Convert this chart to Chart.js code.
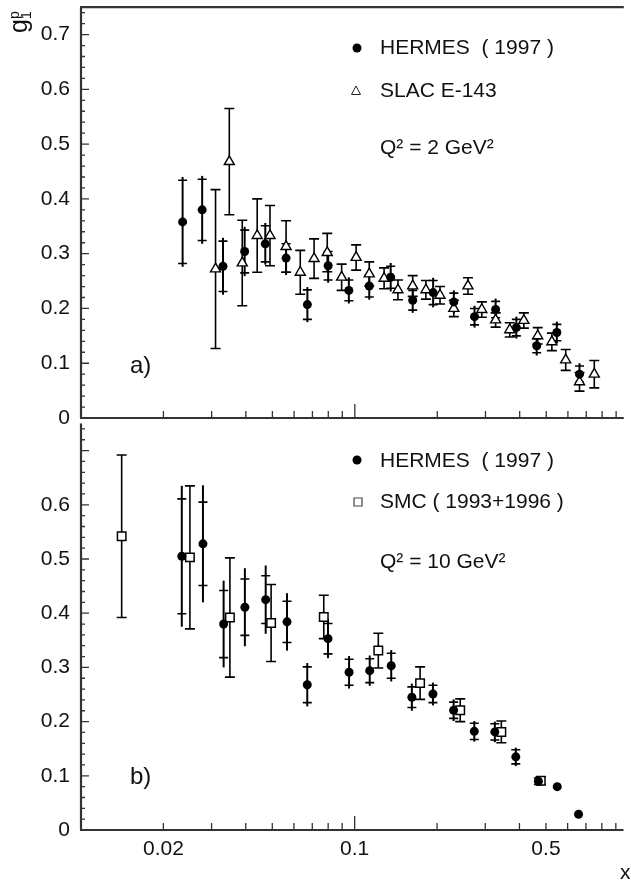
<!DOCTYPE html>
<html>
<head>
<meta charset="utf-8">
<script src="https://cdn.jsdelivr.net/npm/chart.js@4.4.0/dist/chart.umd.min.js"></script>
<style>
  html, body { margin: 0; padding: 0; background: #fff; overflow: hidden; }
  #wrap { position: relative; width: 631px; height: 886px; }
  #panelA { position: absolute; left: 0; top: 0; }
  #panelB { position: absolute; left: 0; top: 416px; }
</style>
</head>
<body>
<div id="wrap">
  <canvas id="panelA" width="631" height="440"></canvas>
  <canvas id="panelB" width="631" height="470"></canvas>
</div>
<script>
// axis ticks
const yTicks = [0, 0.1, 0.2, 0.3, 0.4, 0.5, 0.6, 0.7];
const yTickLabelsA = ['0', '0.1', '0.2', '0.3', '0.4', '0.5', '0.6', '0.7'];
const yTickLabelsB = ['0', '0.1', '0.2', '0.3', '0.4', '0.5', '0.6', ''];
const xTicks = [0.02, 0.1, 0.5];
const xTickLabels = ['0.02', '0.1', '0.5'];
const xMinorTicks = [0.02, 0.03, 0.04, 0.05, 0.06, 0.07, 0.08, 0.09, 0.2, 0.3, 0.4, 0.5, 0.6, 0.7, 0.8, 0.9];

// panel a) Q2 = 2 GeV2 : HERMES 1997
const hermesA_x = [0.0235, 0.0277, 0.0330, 0.0396, 0.0471, 0.0561, 0.0671, 0.0799, 0.0951, 0.1129,
                   0.1352, 0.1627, 0.1932, 0.2299, 0.2736, 0.3267, 0.3889, 0.4615, 0.5467, 0.6615];
const hermesA_y = [0.358, 0.380, 0.277, 0.304, 0.318, 0.292, 0.207, 0.278, 0.233, 0.241,
                   0.257, 0.215, 0.229, 0.212, 0.185, 0.198, 0.165, 0.132, 0.156, 0.080];
const hermesA_stat = [0.076, 0.056, 0.046, 0.039, 0.033, 0.026, 0.027, 0.026, 0.019, 0.020,
                      0.020, 0.018, 0.022, 0.016, 0.015, 0.015, 0.015, 0.013, 0.015, 0.015];
const hermesA_tot = [0.082, 0.062, 0.052, 0.045, 0.038, 0.031, 0.032, 0.031, 0.024, 0.025,
                     0.026, 0.023, 0.027, 0.021, 0.020, 0.020, 0.020, 0.018, 0.020, 0.020];

// panel a) SLAC E-143
const slacA_x = [0.0310, 0.0348, 0.0388, 0.0440, 0.0490, 0.0561, 0.0632, 0.0710, 0.0793, 0.0895,
                 0.1011, 0.1129, 0.1279, 0.1437, 0.1627, 0.1818, 0.2047, 0.2299, 0.2589, 0.2909,
                 0.3267, 0.3680, 0.4143, 0.4655, 0.5243, 0.5890, 0.6615, 0.7490];
const slacA_y = [0.272, 0.468, 0.283, 0.333, 0.333, 0.313, 0.266, 0.291, 0.302, 0.257,
                 0.293, 0.263, 0.255, 0.234, 0.241, 0.234, 0.224, 0.200, 0.241, 0.198,
                 0.179, 0.161, 0.178, 0.150, 0.139, 0.106, 0.066, 0.080];
const slacA_err = [0.145, 0.097, 0.078, 0.067, 0.055, 0.047, 0.040, 0.036, 0.035, 0.024,
                   0.023, 0.022, 0.019, 0.018, 0.019, 0.017, 0.016, 0.015, 0.015, 0.014,
                   0.013, 0.013, 0.014, 0.015, 0.016, 0.019, 0.017, 0.025];

// panel b) Q2 = 10 GeV2 : HERMES 1997
const hermesB_x = [0.02335, 0.0279, 0.0332, 0.0397, 0.0473, 0.0566, 0.0671, 0.0799, 0.0954, 0.1135,
                   0.1360, 0.1618, 0.1932, 0.2299, 0.2736, 0.3252, 0.3879, 0.4691, 0.5497, 0.6577];
const hermesB_y = [0.505, 0.528, 0.380, 0.411, 0.425, 0.384, 0.268, 0.353, 0.291, 0.294,
                   0.303, 0.245, 0.251, 0.221, 0.182, 0.181, 0.135, 0.090, 0.080, 0.029];
const hermesB_stat = [0.106, 0.077, 0.062, 0.052, 0.044, 0.038, 0.033, 0.028, 0.024, 0.022,
                      0.023, 0.019, 0.016, 0.015, 0.015, 0.015, 0.013, 0.006, 0, 0];
const hermesB_tot = [0.130, 0.108, 0.080, 0.072, 0.063, 0.053, 0.040, 0.036, 0.030, 0.028,
                     0.029, 0.025, 0.021, 0.020, 0.019, 0.019, 0.017, 0.008, 0, 0];

// panel b) SMC 1993+1996
const smcB_x = [0.01408, 0.0250, 0.0350, 0.0495, 0.0771, 0.1220, 0.1734, 0.2430, 0.3435, 0.4786];
const smcB_y = [0.542, 0.503, 0.392, 0.382, 0.393, 0.331, 0.271, 0.221, 0.181, 0.091];
const smcB_err = [0.150, 0.132, 0.110, 0.071, 0.040, 0.032, 0.030, 0.021, 0.020, 0.007];

const FONT = "'Liberation Sans', Arial, Helvetica, sans-serif";
const INK = '#111';
const AXIS = '#333';

Chart.defaults.font.family = FONT;
Chart.defaults.color = INK;

function pts(xs, ys) {
  return xs.map((x, i) => ({ x: x, y: ys[i] }));
}

// error bars, frame, inward ticks and panel texts
const deco = {
  id: 'deco',
  beforeDatasetsDraw(chart) {
    const ctx = chart.ctx;
    const ys = chart.scales.y;
    chart.data.datasets.forEach((ds, i) => {
      const meta = chart.getDatasetMeta(i);
      ctx.save();
      ctx.strokeStyle = '#000';
      meta.data.forEach((pt, j) => {
        const v = ds.data[j].y;
        const tot = ds.errTot[j], stat = ds.errStat[j];
        if (!tot) return;
        const top = ys.getPixelForValue(v + tot);
        const bot = ys.getPixelForValue(v - tot);
        ctx.lineWidth = ds.barWidth;
        ctx.beginPath();
        ctx.moveTo(pt.x, top);
        ctx.lineTo(pt.x, bot);
        ctx.stroke();
        const s1 = ys.getPixelForValue(v + stat);
        const s2 = ys.getPixelForValue(v - stat);
        ctx.lineWidth = 1.6;
        ctx.beginPath();
        ctx.moveTo(pt.x - ds.capHalf, s1); ctx.lineTo(pt.x + ds.capHalf, s1);
        ctx.moveTo(pt.x - ds.capHalf, s2); ctx.lineTo(pt.x + ds.capHalf, s2);
        ctx.stroke();
      });
      ctx.restore();
    });
  },
  afterDraw(chart) {
    const o = chart.options.plugins.deco;
    const ctx = chart.ctx;
    const a = chart.chartArea;
    const xs = chart.scales.x, ys = chart.scales.y;
    ctx.save();
    // frame
    ctx.strokeStyle = AXIS;
    ctx.lineWidth = 2.2;
    ctx.beginPath();
    ctx.moveTo(a.left, a.top); ctx.lineTo(a.left, a.bottom);
    ctx.moveTo(a.left - 1, a.bottom); ctx.lineTo(a.right, a.bottom);
    if (o.topLine) { ctx.moveTo(a.left - 1, a.top); ctx.lineTo(a.right, a.top); }
    ctx.stroke();
    // y ticks, pointing inward
    ctx.lineWidth = 1.3;
    ctx.beginPath();
    for (let k = 0; k <= 37; k++) {
      const v = k * 0.02;
      const py = ys.getPixelForValue(v);
      const len = (k % 5 === 0) ? 8 : 4;
      ctx.moveTo(a.left, py); ctx.lineTo(a.left + len, py);
    }
    xMinorTicks.forEach(v => {
      const px = xs.getPixelForValue(v);
      ctx.moveTo(px, a.bottom); ctx.lineTo(px, a.bottom - 7);
    });
    const p1 = xs.getPixelForValue(0.1);
    ctx.moveTo(p1, a.bottom); ctx.lineTo(p1, a.bottom - 14);
    ctx.stroke();

    // legend
    ctx.fillStyle = INK;
    ctx.font = '21px ' + FONT;
    ctx.textBaseline = 'middle';
    ctx.textAlign = 'left';
    o.texts.forEach(t => ctx.fillText(t[0], t[1], t[2]));
    o.marks.forEach(m => {
      ctx.beginPath();
      if (m.kind === 'circle') {
        ctx.arc(m.x, m.y, 4.5, 0, Math.PI * 2);
        ctx.fillStyle = '#000';
        ctx.fill();
      } else if (m.kind === 'triangle') {
        ctx.moveTo(m.x, m.y - 5);
        ctx.lineTo(m.x + 4.5, m.y + 3.5);
        ctx.lineTo(m.x - 4.5, m.y + 3.5);
        ctx.closePath();
        ctx.lineWidth = 1;
        ctx.strokeStyle = '#222';
        ctx.stroke();
      } else {
        ctx.rect(m.x - 4, m.y - 4, 8, 8);
        ctx.lineWidth = 1.2;
        ctx.strokeStyle = '#444';
        ctx.stroke();
      }
    });
    ctx.fillStyle = INK;
    ctx.font = '24px ' + FONT;
    ctx.fillText(o.tag[0], o.tag[1], o.tag[2]);

    if (o.yTitle) {
      ctx.save();
      ctx.translate(27, 33);
      ctx.rotate(-Math.PI / 2);
      ctx.textBaseline = 'alphabetic';
      ctx.font = '25px ' + FONT;
      ctx.fillText('g', 0, 0);
      const w = ctx.measureText('g').width;
      ctx.font = '14px ' + FONT;
      ctx.fillText('1', w, 4);
      ctx.fillText('p', w, -8);
      ctx.restore();
    }
    if (o.xTitle) {
      ctx.font = '21px ' + FONT;
      ctx.fillText(o.xTitle[0], o.xTitle[1], o.xTitle[2]);
    }
    ctx.restore();
  }
};

function yScale(labels) {
  return {
    min: 0,
    max: 0.75,
    afterBuildTicks: s => { s.ticks = yTicks.map(v => ({ value: v })); },
    afterFit: s => { s.width = 81; s.paddingTop = 0; s.paddingBottom = 0; },
    grid: { display: false, drawTicks: false },
    border: { display: false },
    ticks: {
      padding: 11,
      font: { size: 21 },
      color: INK,
      callback: (v, i) => labels[i]
    }
  };
}

function marker(style, radius, fill, bw) {
  return {
    pointStyle: style,
    pointRadius: radius,
    pointBackgroundColor: fill,
    pointBorderColor: '#000',
    pointBorderWidth: bw,
    showLine: false
  };
}

new Chart(document.getElementById('panelA'), {
  type: 'scatter',
  data: {
    datasets: [
      Object.assign({
        label: 'HERMES ( 1997 )',
        data: pts(hermesA_x, hermesA_y),
        errStat: hermesA_stat, errTot: hermesA_tot, barWidth: 2, capHalf: 4.5
      }, marker('circle', 4.5, '#000', 0)),
      Object.assign({
        label: 'SLAC E-143',
        data: pts(slacA_x, slacA_y),
        errStat: slacA_err, errTot: slacA_err, barWidth: 1.6, capHalf: 5
      }, marker('triangle', 5.8, '#fff', 1.4))
    ]
  },
  options: {
    responsive: false,
    animation: false,
    layout: { padding: { left: 0, right: 0, top: 6, bottom: 22 } },
    scales: {
      x: { type: 'logarithmic', min: 0.01, max: 0.96, display: false },
      y: yScale(yTickLabelsA)
    },
    plugins: {
      legend: { display: false },
      tooltip: { enabled: false },
      deco: {
        topLine: true,
        texts: [['HERMES  ( 1997 )', 380, 48], ['SLAC E-143', 380, 91], ['Q\u00B2 = 2 GeV\u00B2', 380, 148]],
        marks: [{ kind: 'circle', x: 357, y: 48 }, { kind: 'triangle', x: 356, y: 91 }],
        tag: ['a)', 130, 366],
        yTitle: true
      }
    }
  },
  plugins: [deco]
});

new Chart(document.getElementById('panelB'), {
  type: 'scatter',
  data: {
    datasets: [
      Object.assign({
        label: 'HERMES ( 1997 )',
        data: pts(hermesB_x, hermesB_y),
        errStat: hermesB_stat, errTot: hermesB_tot, barWidth: 2, capHalf: 4.5
      }, marker('circle', 4.5, '#000', 0)),
      Object.assign({
        label: 'SMC ( 1993+1996 )',
        data: pts(smcB_x, smcB_y),
        errStat: smcB_err, errTot: smcB_err, barWidth: 1.6, capHalf: 5
      }, marker('rect', 6, '#fff', 1.5))
    ]
  },
  options: {
    responsive: false,
    animation: false,
    layout: { padding: { left: 0, right: 0, top: 2, bottom: 0 } },
    scales: {
      x: {
        type: 'logarithmic',
        min: 0.01,
        max: 0.96,
        afterBuildTicks: s => { s.ticks = xTicks.map(v => ({ value: v })); },
        afterFit: s => { s.height = 56; s.paddingLeft = 0; s.paddingRight = 0; },
        grid: { display: false, drawTicks: false },
        border: { display: false },
        ticks: {
          padding: 7,
          maxRotation: 0,
          autoSkip: false,
          font: { size: 21 },
          color: INK,
          callback: (v, i) => xTickLabels[i]
        }
      },
      y: yScale(yTickLabelsB)
    },
    plugins: {
      legend: { display: false },
      tooltip: { enabled: false },
      deco: {
        topLine: false,
        texts: [['HERMES  ( 1997 )', 380, 45], ['SMC ( 1993+1996 )', 380, 86], ['Q\u00B2 = 10 GeV\u00B2', 380, 146]],
        marks: [{ kind: 'circle', x: 357, y: 44 }, { kind: 'square', x: 358, y: 86 }],
        tag: ['b)', 130, 361],
        xTitle: ['x', 620, 457]
      }
    }
  },
  plugins: [deco]
});
</script>
</body>
</html>
